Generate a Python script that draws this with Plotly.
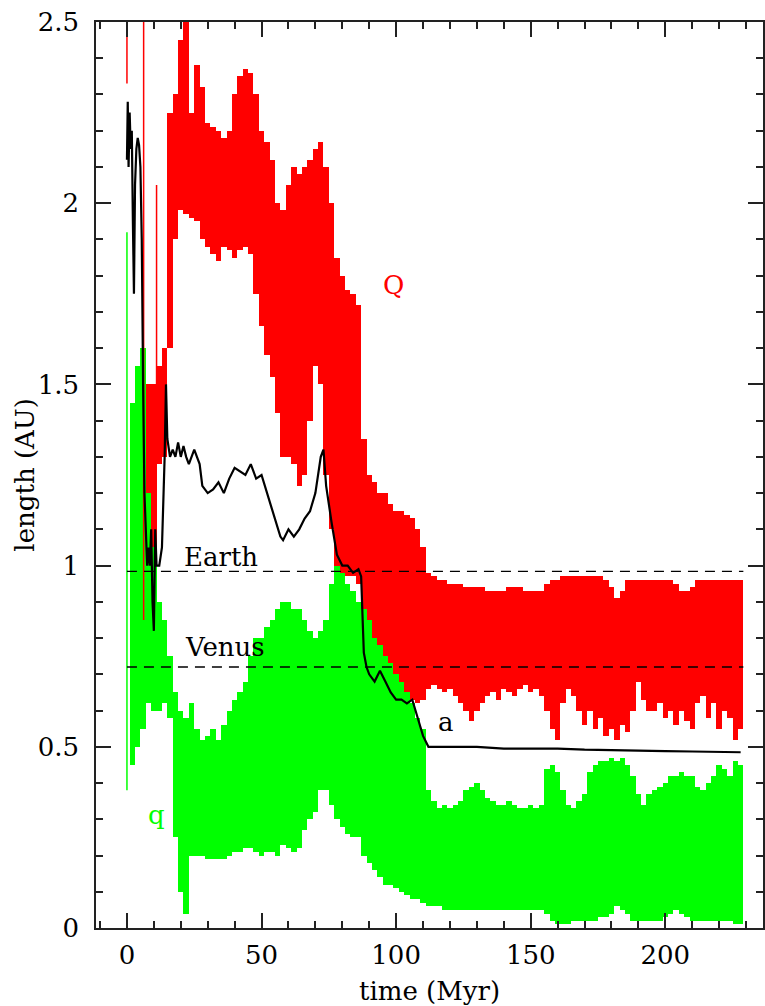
import plotly.graph_objects as go

# Orbital evolution of the body: aphelion Q, perihelion q, semi-major axis a (AU) vs time (Myr)

# sampling grid for the oscillation bands (Myr)
band_t = list(range(0, 230, 2))

Q_hi = [None, None, None, None, 1.50, 1.50, 1.55, 1.60, 2.25, 2.30,
        2.45, 2.52, 2.25, 2.38, 2.32, 2.22, 2.21, 2.20, 2.18, 2.20,
        2.30, 2.35, 2.37, 2.36, 2.30, 2.20, 2.17, 2.12, 2.00, 1.98,
        2.05, 2.10, 2.08, 2.10, 2.12, 2.15, 2.17, 2.10, 2.00, 1.85,
        1.80, 1.76, 1.75, 1.72, 1.35, 1.25, 1.23, 1.20, 1.20, 1.17,
        1.15, 1.15, 1.14, 1.13, 1.10, 1.05, 0.98, 0.97, 0.96, 0.96,
        0.95, 0.95, 0.95, 0.94, 0.94, 0.94, 0.94, 0.93, 0.93, 0.93,
        0.93, 0.94, 0.94, 0.94, 0.93, 0.93, 0.93, 0.93, 0.95, 0.96,
        0.96, 0.97, 0.97, 0.97, 0.97, 0.97, 0.97, 0.97, 0.97, 0.96,
        0.94, 0.91, 0.93, 0.96, 0.96, 0.96, 0.96, 0.96, 0.96, 0.96,
        0.96, 0.96, 0.95, 0.93, 0.93, 0.94, 0.96, 0.96, 0.96, 0.96,
        0.96, 0.96, 0.96, 0.96, 0.96]
Q_lo = [None, None, None, None, 0.98, 0.98, 1.28, 1.30, 1.60, 1.90,
        1.98, 1.97, 1.96, 1.95, 1.90, 1.88, 1.86, 1.84, 1.88, 1.87,
        1.85, 1.87, 1.88, 1.86, 1.75, 1.66, 1.58, 1.52, 1.42, 1.30,
        1.30, 1.28, 1.22, 1.25, 1.40, 1.55, 1.50, 1.25, 1.10, 1.00,
        0.98, 0.97, 0.97, 0.95, 0.72, 0.68, 0.67, 0.67, 0.66, 0.65,
        0.64, 0.63, 0.64, 0.63, 0.62, 0.63, 0.66, 0.67, 0.66, 0.65,
        0.66, 0.64, 0.62, 0.60, 0.57, 0.60, 0.62, 0.64, 0.65, 0.63,
        0.66, 0.65, 0.64, 0.66, 0.67, 0.65, 0.66, 0.64, 0.60, 0.55,
        0.52, 0.62, 0.66, 0.64, 0.60, 0.56, 0.60, 0.55, 0.58, 0.53,
        0.55, 0.52, 0.56, 0.54, 0.60, 0.68, 0.63, 0.60, 0.60, 0.62,
        0.58, 0.60, 0.56, 0.60, 0.57, 0.55, 0.62, 0.64, 0.58, 0.62,
        0.55, 0.60, 0.58, 0.52, 0.55]

q_hi = [None, 1.45, 1.55, 1.60, 1.20, 1.05, 0.90, 0.85, 0.75, 0.65,
        0.60, 0.58, 0.62, 0.55, 0.52, 0.53, 0.55, 0.52, 0.56, 0.60,
        0.63, 0.65, 0.68, 0.75, 0.80, 0.80, 0.83, 0.85, 0.88, 0.90,
        0.90, 0.88, 0.88, 0.85, 0.82, 0.80, 0.82, 0.85, 0.95, 1.00,
        0.98, 0.95, 0.93, 0.90, 0.88, 0.85, 0.80, 0.78, 0.75, 0.73,
        0.70, 0.68, 0.65, 0.62, 0.58, 0.55, 0.38, 0.35, 0.33, 0.34,
        0.33, 0.34, 0.35, 0.38, 0.39, 0.40, 0.38, 0.36, 0.35, 0.34,
        0.34, 0.35, 0.34, 0.33, 0.33, 0.34, 0.33, 0.34, 0.44, 0.45,
        0.43, 0.38, 0.34, 0.33, 0.35, 0.37, 0.43, 0.45, 0.46, 0.46,
        0.47, 0.46, 0.47, 0.45, 0.42, 0.37, 0.34, 0.37, 0.38, 0.39,
        0.40, 0.42, 0.42, 0.43, 0.42, 0.42, 0.39, 0.38, 0.40, 0.42,
        0.45, 0.44, 0.42, 0.46, 0.45]
q_lo = [None, 0.45, 0.50, 0.55, 0.62, 0.60, 0.60, 0.62, 0.58, 0.25,
        0.10, 0.04, 0.20, 0.20, 0.20, 0.19, 0.19, 0.19, 0.19, 0.20,
        0.21, 0.21, 0.22, 0.22, 0.21, 0.20, 0.21, 0.21, 0.20, 0.23,
        0.22, 0.21, 0.22, 0.27, 0.30, 0.32, 0.38, 0.38, 0.34, 0.30,
        0.28, 0.26, 0.25, 0.25, 0.20, 0.18, 0.16, 0.14, 0.12, 0.12,
        0.11, 0.10, 0.09, 0.08, 0.08, 0.07, 0.06, 0.06, 0.06, 0.05,
        0.05, 0.05, 0.05, 0.05, 0.05, 0.05, 0.05, 0.05, 0.05, 0.05,
        0.05, 0.05, 0.05, 0.05, 0.05, 0.05, 0.05, 0.05, 0.04, 0.02,
        0.01, 0.01, 0.01, 0.02, 0.02, 0.02, 0.02, 0.02, 0.03, 0.03,
        0.04, 0.06, 0.05, 0.04, 0.02, 0.02, 0.02, 0.02, 0.02, 0.02,
        0.03, 0.04, 0.05, 0.04, 0.03, 0.02, 0.02, 0.02, 0.02, 0.02,
        0.02, 0.02, 0.02, 0.01, 0.01]

# isolated fast excursions early in the run
Q_spike_t = [0.0, 6.2, 11.0]
Q_spike_lo = [2.33, 0.85, 1.30]
Q_spike_hi = [2.60, 2.60, 2.05]
q_spike_t = [0.0]
q_spike_lo = [0.38]
q_spike_hi = [1.92]

# semi-major axis
a_t = [0, 0.3, 0.6, 1.0, 1.4, 1.8, 2.2, 2.6, 3.0, 3.5, 4.0, 4.5, 5.0, 5.5, 6.0,
       6.5, 7.0, 7.5, 8.0, 8.5, 9.0, 9.5, 10.0, 10.5, 11, 12, 13, 14, 14.5, 15,
       16, 17, 18, 19, 20, 21, 22, 23, 24, 25, 26, 27, 28, 30, 32, 34, 36, 38,
       40, 42, 44, 46, 48, 50, 52, 54, 56, 57, 58, 60, 62, 64, 66, 68, 70, 72,
       73, 74, 76, 78, 80, 82, 84, 86, 87, 88, 89, 90, 92, 94, 96, 98, 100, 102,
       104, 106, 108, 110, 112, 114, 120, 130, 140, 150, 160, 170, 180, 190,
       200, 210, 220, 228]
a_val = [2.12, 2.28, 2.10, 2.25, 2.15, 2.20, 1.95, 1.75, 2.05, 2.15, 2.18, 2.16,
         2.10, 1.90, 1.50, 1.20, 1.10, 1.00, 1.05, 1.00, 1.10, 0.90, 0.82, 1.10,
         1.00, 1.00, 1.05, 1.30, 1.50, 1.35, 1.30, 1.32, 1.30, 1.34, 1.30, 1.33,
         1.30, 1.28, 1.30, 1.32, 1.30, 1.28, 1.22, 1.20, 1.21, 1.23, 1.20, 1.24,
         1.27, 1.26, 1.25, 1.28, 1.24, 1.25, 1.20, 1.15, 1.10, 1.08, 1.07, 1.10,
         1.08, 1.10, 1.13, 1.15, 1.20, 1.30, 1.32, 1.22, 1.12, 1.03, 1.00, 1.00,
         0.98, 0.99, 0.97, 0.76, 0.72, 0.70, 0.68, 0.71, 0.68, 0.65, 0.63, 0.63,
         0.62, 0.63, 0.58, 0.53, 0.50, 0.50, 0.50, 0.50, 0.495, 0.495, 0.495,
         0.492, 0.49, 0.49, 0.488, 0.487, 0.486, 0.485]

# reference orbits
planets = ["Earth", "Venus"]
planet_au = [0.984, 0.72]
planet_span = [0, 229]

# curve labels: text, time, value
curve_labels = ["Q", "q", "a"]
curve_label_t = [98.9, 11.1, 118.6]
curve_label_v = [1.775, 0.312, 0.569]

RED = "#ff0000"
GREEN = "#00ff00"
FONT = "DejaVu Serif"
STEP = 2


def band(t, lo, hi, color):
    xs, base, height = [], [], []
    for ti, l, h in zip(t, lo, hi):
        if l is None or h is None:
            continue
        xs.append(ti)
        base.append(l)
        height.append(h - l)
    return go.Bar(x=xs, y=height, base=base, width=STEP, marker=dict(color=color, line=dict(width=0)),
                  showlegend=False, hoverinfo="skip")


def spikes(t, lo, hi, color):
    xs, ys = [], []
    for ti, l, h in zip(t, lo, hi):
        xs += [ti, ti, None]
        ys += [l, h, None]
    return go.Scatter(x=xs, y=ys, mode="lines", line=dict(color=color, width=1.5),
                      showlegend=False, hoverinfo="skip")


fig = go.Figure()
fig.add_trace(band(band_t, Q_lo, Q_hi, RED))
fig.add_trace(spikes(Q_spike_t, Q_spike_lo, Q_spike_hi, RED))
fig.add_trace(band(band_t, q_lo, q_hi, GREEN))
fig.add_trace(spikes(q_spike_t, q_spike_lo, q_spike_hi, GREEN))
fig.add_trace(go.Scatter(x=a_t, y=a_val, mode="lines", line=dict(color="black", width=2.2),
                         showlegend=False, hoverinfo="skip"))

for name, au in zip(planets, planet_au):
    fig.add_trace(go.Scatter(x=planet_span, y=[au, au], mode="lines",
                             line=dict(color="black", width=1.4, dash="10px,7px"),
                             showlegend=False, hoverinfo="skip"))

# planet labels sit just above their dashed lines
fig.add_annotation(x=34.9, y=planet_au[0], text=planets[0], showarrow=False, yanchor="bottom", yshift=-3,
                   font=dict(family=FONT, size=26, color="black"))
fig.add_annotation(x=36.4, y=planet_au[1], text=planets[1], showarrow=False, yanchor="bottom", yshift=3,
                   font=dict(family=FONT, size=26, color="black"))

for txt, t, v, c in zip(curve_labels, curve_label_t, curve_label_v, [RED, GREEN, "black"]):
    fig.add_annotation(x=t, y=v, text=txt, showarrow=False, font=dict(family=FONT, size=26, color=c))

axis_common = dict(showline=True, linecolor="#222", linewidth=1.5, mirror="allticks",
                   ticks="inside", ticklen=15, tickwidth=1.5, tickcolor="#222",
                   showgrid=False, zeroline=False,
                   tickfont=dict(family=FONT, size=26, color="black"))

fig.update_xaxes(range=[-11.5, 236.3], tick0=0, dtick=50,
                 minor=dict(dtick=10, ticks="inside", ticklen=7, tickwidth=1.5, tickcolor="#222"),
                 ticklabelstandoff=3, **axis_common)
fig.update_yaxes(range=[0, 2.5], tick0=0, dtick=0.5, tickformat="~g",
                 minor=dict(dtick=0.1, ticks="inside", ticklen=7, tickwidth=1.5, tickcolor="#222"),
                 ticklabelstandoff=10, **axis_common)

fig.add_annotation(xref="paper", yref="paper", x=0.5, y=-0.07, yanchor="middle", text="time (Myr)",
                   showarrow=False, font=dict(family=FONT, size=26, color="black"))
fig.add_annotation(xref="paper", yref="paper", x=-0.107, xanchor="center", y=0.5, text="length (AU)",
                   textangle=-90, showarrow=False, font=dict(family=FONT, size=26, color="black"))

fig.update_layout(width=765, height=1006, margin=dict(l=96, r=0, t=22, b=78),
                  plot_bgcolor="white", paper_bgcolor="white", barmode="overlay", bargap=0)

fig.write_html("out.html")
